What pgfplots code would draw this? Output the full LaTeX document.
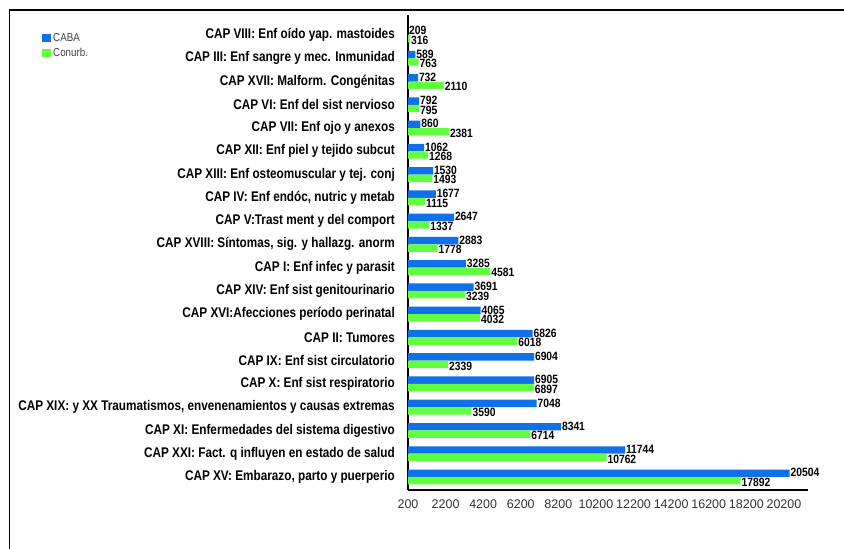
\documentclass[border=0pt]{standalone}
\usepackage{pgfplots}
\pgfplotsset{compat=1.18}
\usepackage{pgfplotstable}
\usepackage{fontspec}
\setmainfont{Liberation Sans}
\newfontfamily\catfont{Liberation Sans}[FakeStretch=0.84]
\newfontfamily\valfont{Liberation Sans}[FakeStretch=0.86]
\newfontfamily\legfont{Liberation Sans}[FakeStretch=0.85]
\definecolor{caba}{RGB}{16,112,232}
\definecolor{conurb}{RGB}{98,255,64}
\definecolor{ticktxt}{RGB}{51,51,51}

\pgfplotstableread{
y caba conurb
0 20504 17892
1 11744 10762
2 8341 6714
3 7048 3590
4 6905 6897
5 6904 2339
6 6826 6018
7 4065 4032
8 3691 3239
9 3285 4581
10 2883 1778
11 2647 1337
12 1677 1115
13 1530 1493
14 1062 1268
15 860 2381
16 792 795
17 732 2110
18 589 763
19 209 316
}\data

\begin{document}
\begin{tikzpicture}[x=1bp,y=1bp]
\useasboundingbox (0,0) rectangle (844,549);
\draw[line width=1.4bp] (9.5,-20) -- (9.5,539) -- (880,539);
\begin{axis}[
  at={(408bp,59bp)}, anchor=south west,
  scale only axis, width=400bp, height=475bp,
  xmin=200, xmax=21480, ymin=-0.56, ymax=19.86,
  clip=false,
  axis lines*=left,
  axis line style={line width=2.6bp,-},
  major tick length=0pt,
  scaled x ticks=false,
  xtick={200,2200,4200,6200,8200,10200,12200,14200,16200,18200,20200},
  xticklabels={200,2200,4200,6200,8200,10200,12200,14200,16200,18200,20200},
  xticklabel style={font=\fontsize{12.5bp}{14bp}\selectfont, text=ticktxt, anchor=north, inner sep=0pt, yshift=-9.5bp},
  ytick={0,...,19},
  yticklabels={
    {CAP XV: Embarazo, parto y puerperio},
    {CAP XXI: Fact. q influyen en estado de salud\hspace{3bp}},
    {CAP XI: Enfermedades del sistema digestivo},
    {CAP XIX: y XX Traumatismos, envenenamientos y causas extremas\hspace{3bp}},
    {CAP X: Enf sist respiratorio},
    {CAP IX: Enf sist circulatorio},
    {CAP II: Tumores},
    {CAP XVI:Afecciones período perinatal},
    {CAP XIV: Enf sist genitourinario},
    {CAP I: Enf infec y parasit},
    {CAP XVIII: Síntomas, sig. y hallazg. anorm},
    {CAP V:Trast ment y del comport},
    {CAP IV: Enf endóc, nutric y metab},
    {CAP XIII: Enf osteomuscular y tej. conj},
    {CAP XII: Enf piel y tejido subcut},
    {CAP VII: Enf ojo y anexos},
    {CAP VI: Enf del sist nervioso},
    {CAP XVII: Malform. Congénitas\hspace{3bp}},
    {CAP III: Enf sangre y mec. Inmunidad},
    {CAP VIII: Enf oído yap. mastoides}},
  yticklabel style={font=\catfont\bfseries\fontsize{14bp}{16bp}\selectfont, anchor=east, inner sep=0pt, xshift=-13bp},
  xbar, bar width=0.32,
  /pgf/number format/1000 sep={},
  /pgf/number format/assume math mode=true,
  nodes near coords,
  every node near coord/.append style={font=\valfont\bfseries\fontsize{12bp}{13bp}\selectfont, anchor=west, inner sep=0.8bp, text=black},
  legend style={at={(-0.915,0.966)}, anchor=north west, draw=none, fill=none, inner sep=0pt,
    font=\legfont\fontsize{11.5bp}{12bp}\selectfont, text=black!75, row sep=1.5bp,
    /tikz/every even column/.append style={column sep=6bp}},
  legend image code/.code={\fill[#1] (0bp,-4.25bp) rectangle (9bp,4.25bp);},
  legend cell align=left,
]
\addplot[draw=none, fill=caba, bar shift=0.16, every node near coord/.append style={yshift=0.5bp}] table[x=caba, y=y] {\data};
\addplot[draw=none, fill=conurb, bar shift=-0.16, every node near coord/.append style={yshift=-1.5bp}] table[x=conurb, y=y] {\data};
\legend{CABA, Conurb.}
\end{axis}
\end{tikzpicture}
\end{document}
